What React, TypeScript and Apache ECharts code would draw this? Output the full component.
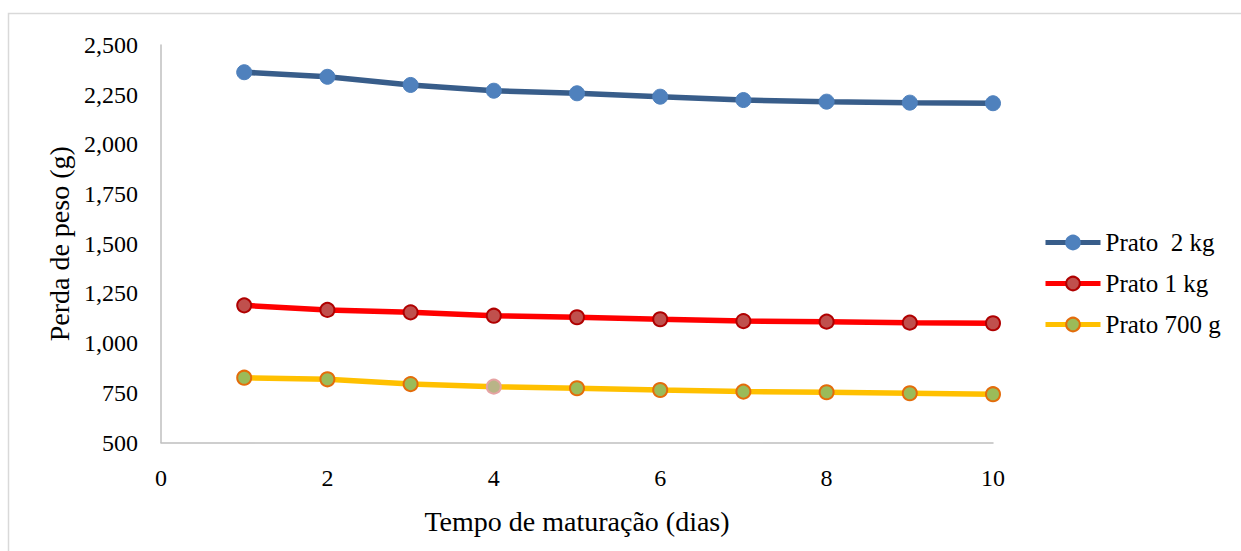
import React, { useEffect, useRef } from "react";
import * as echarts from "echarts";

// Dias de maturação e perda de peso (g) por tamanho de prato
const dias = [1, 2, 3, 4, 5, 6, 7, 8, 9, 10];
const prato2kg = [2363, 2340, 2299, 2270, 2257, 2240, 2223, 2215, 2210, 2207];
const prato1kg = [1190, 1167, 1155, 1138, 1130, 1120, 1111, 1108, 1103, 1100];
const prato700g = [826, 818, 794, 781, 773, 764, 756, 753, 748, 743];
const seriesNames = ["Prato  2 kg", "Prato 1 kg", "Prato 700 g"];
const xTicks = [0, 2, 4, 6, 8, 10];
const yTicks = [500, 750, 1000, 1250, 1500, 1750, 2000, 2250, 2500];

const FONT = "Liberation Serif";

function pairs(values: number[]) {
  return dias.map((d, i) => [d, values[i]]);
}

export default function App() {
  const ref = useRef<HTMLDivElement>(null);

  useEffect(() => {
    if (!ref.current) return;
    const chart = echarts.init(ref.current, undefined, { renderer: "svg" });

    const yellowData: any[] = pairs(prato700g);
    // ponto do dia 4 com destaque rosado
    yellowData[3] = {
      value: yellowData[3],
      itemStyle: { color: "#b9b487", borderColor: "#e6a3a3" },
    };

    chart.setOption({
      animation: false,
      backgroundColor: "#ffffff",
      textStyle: { fontFamily: FONT },
      graphic: [
        {
          type: "rect",
          shape: { x: 8.5, y: 13.5, width: 1300, height: 600 },
          style: { fill: "none", stroke: "#d9d9d9", lineWidth: 1.5 },
          silent: true,
        },
      ],
      grid: { left: 161, right: 248, top: 45, bottom: 108.5 },
      legend: {
        orient: "vertical",
        left: 1043,
        top: 230,
        padding: 0,
        itemWidth: 55,
        itemHeight: 17,
        itemGap: 16,
        lineStyle: { width: 5 },
        textStyle: { fontFamily: FONT, fontSize: 25, color: "#000" },
        data: seriesNames,
      },
      xAxis: {
        type: "value",
        min: xTicks[0],
        max: xTicks[xTicks.length - 1],
        interval: 2,
        name: "Tempo de maturação (dias)",
        nameLocation: "middle",
        nameGap: 65,
        nameTextStyle: { fontFamily: FONT, fontSize: 28, color: "#000" },
        axisLine: { lineStyle: { color: "#bfbfbf", width: 1.5 } },
        axisTick: { show: false },
        splitLine: { show: false },
        axisLabel: { fontFamily: FONT, fontSize: 24, color: "#000", margin: 23 },
      },
      yAxis: {
        type: "value",
        min: yTicks[0],
        max: yTicks[yTicks.length - 1],
        interval: 250,
        name: "Perda de peso (g)",
        nameLocation: "middle",
        nameGap: 83,
        nameTextStyle: { fontFamily: FONT, fontSize: 28, color: "#000" },
        axisLine: { show: true, lineStyle: { color: "#bfbfbf", width: 1.5 } },
        axisTick: { show: false },
        splitLine: { show: false },
        axisLabel: {
          fontFamily: FONT,
          fontSize: 24,
          color: "#000",
          margin: 23,
          formatter: (v: number) => v.toLocaleString("en-US"),
        },
      },
      series: [
        {
          name: seriesNames[0],
          type: "line",
          data: pairs(prato2kg),
          symbol: "circle",
          symbolSize: 15,
          lineStyle: { color: "#385d8a", width: 5.5 },
          itemStyle: { color: "#4f81bd", borderColor: "#4f81bd", borderWidth: 1 },
        },
        {
          name: seriesNames[1],
          type: "line",
          data: pairs(prato1kg),
          symbol: "circle",
          symbolSize: 14,
          lineStyle: { color: "#ff0000", width: 5.5 },
          itemStyle: { color: "#c0504d", borderColor: "#b00000", borderWidth: 2 },
        },
        {
          name: seriesNames[2],
          type: "line",
          data: yellowData,
          symbol: "circle",
          symbolSize: 14,
          lineStyle: { color: "#ffc000", width: 5.5 },
          itemStyle: { color: "#9bbb59", borderColor: "#e46c0a", borderWidth: 2 },
        },
      ],
    });

    return () => chart.dispose();
  }, []);

  return (
    <div
      ref={ref}
      style={{ position: "absolute", left: 0, top: 0, width: 1241, height: 551 }}
    />
  );
}
